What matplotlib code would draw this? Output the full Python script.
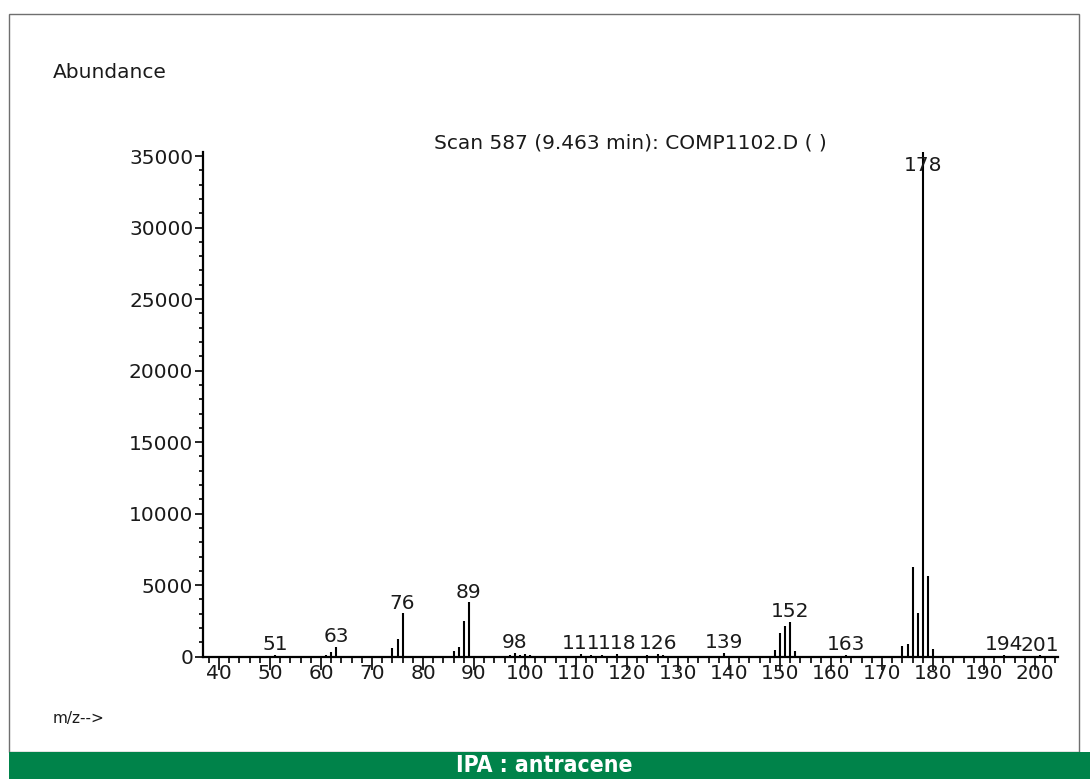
import matplotlib
matplotlib.use("Agg")
import matplotlib.pyplot as plt
from matplotlib.ticker import MultipleLocator
from matplotlib.patches import Rectangle

# ---- data ----
mz = [51, 61, 62, 63, 74, 75, 76, 86, 87, 88, 89,
      97, 98, 99, 100, 101, 111, 113, 115, 118, 124, 126, 127,
      139, 149, 150, 151, 152, 153, 163,
      174, 175, 176, 177, 178, 179, 180, 194, 201]
abundance = [120, 150, 350, 700, 590, 1220, 3030, 420, 700, 2520, 3800,
             150, 250, 150, 200, 150, 200, 150, 100, 200, 100, 200, 150,
             250, 470, 1680, 2150, 2450, 400, 150,
             750, 890, 6270, 3050, 35300, 5640, 540, 150, 100]
labeled_peaks = [51, 63, 76, 89, 98, 111, 118, 126, 139, 152, 163, 178, 194, 201]
y_ticks = [0, 5000, 10000, 15000, 20000, 25000, 30000, 35000]
x_ticks = [40, 50, 60, 70, 80, 90, 100, 110, 120, 130, 140, 150, 160, 170, 180, 190, 200]
title = "Scan 587 (9.463 min): COMP1102.D ( )"
caption = "IPA : antracene"

W, H = 1090, 779
fig = plt.figure(figsize=(W / 100, H / 100), dpi=100)
fig.patch.set_facecolor("white")

# outer frame
fig.add_artist(Rectangle((9 / W, (H - 752) / H), (1079 - 9) / W, (752 - 14) / H,
                         transform=fig.transFigure, fill=False,
                         edgecolor="#6f6f6f", linewidth=1.0))
# green caption band
fig.add_artist(Rectangle((9 / W, 0), 1 - 9 / W, (H - 752) / H,
                         transform=fig.transFigure, facecolor="#00834a",
                         edgecolor="none"))
fig.text(544 / W, (H - 766) / H, caption, color="white", ha="center", va="center",
         fontsize=16.5, fontweight="bold", fontstretch="condensed",
         family="DejaVu Sans")

font = "DejaVu Sans"
fs = 14.5
tc = "#1a1a1a"

ax = fig.add_axes([203 / W, (H - 656.7) / H, (1058 - 203) / W, (656.7 - 152) / H])
ax.set_xlim(36.86, 204.5)
ax.set_ylim(0, 35280)

ax.vlines(mz, 0, abundance, colors="black", linewidth=1.5, clip_on=True)

heights = dict(zip(mz, abundance))
for p in labeled_peaks:
    h = heights.get(p, 0)
    ax.annotate(str(p), xy=(p, min(h, 33600)), xytext=(0, 0.5),
                textcoords="offset points", ha="center", va="bottom",
                fontsize=fs, family=font, color=tc)

for s in ["top", "right"]:
    ax.spines[s].set_visible(False)
for s in ["left", "bottom"]:
    ax.spines[s].set_linewidth(1.6)

ax.set_yticks(y_ticks)
ax.set_xticks(x_ticks)
ax.yaxis.set_minor_locator(MultipleLocator(1000))
ax.xaxis.set_minor_locator(MultipleLocator(2))
ax.tick_params(axis="both", which="major", direction="out", labelsize=fs,
               width=1.2, color="black", labelcolor=tc)
ax.tick_params(axis="y", which="major", length=6, pad=1)
ax.tick_params(axis="y", which="minor", length=3, width=1.2)
ax.tick_params(axis="x", which="major", length=9, pad=-4)
ax.tick_params(axis="x", which="minor", length=4, width=1.2)
for lbl in ax.get_xticklabels() + ax.get_yticklabels():
    lbl.set_family(font)

fig.text(630 / W, (H - 143) / H, title, ha="center", va="center",
         fontsize=fs, family=font, color=tc)
fig.text(53 / W, (H - 72) / H, "Abundance", ha="left", va="center",
         fontsize=fs, family=font, color=tc)
fig.text(53 / W, (H - 718) / H, "m/z-->", ha="left", va="center",
         fontsize=11, family=font, color=tc)

fig.savefig("out.png", dpi=100)
